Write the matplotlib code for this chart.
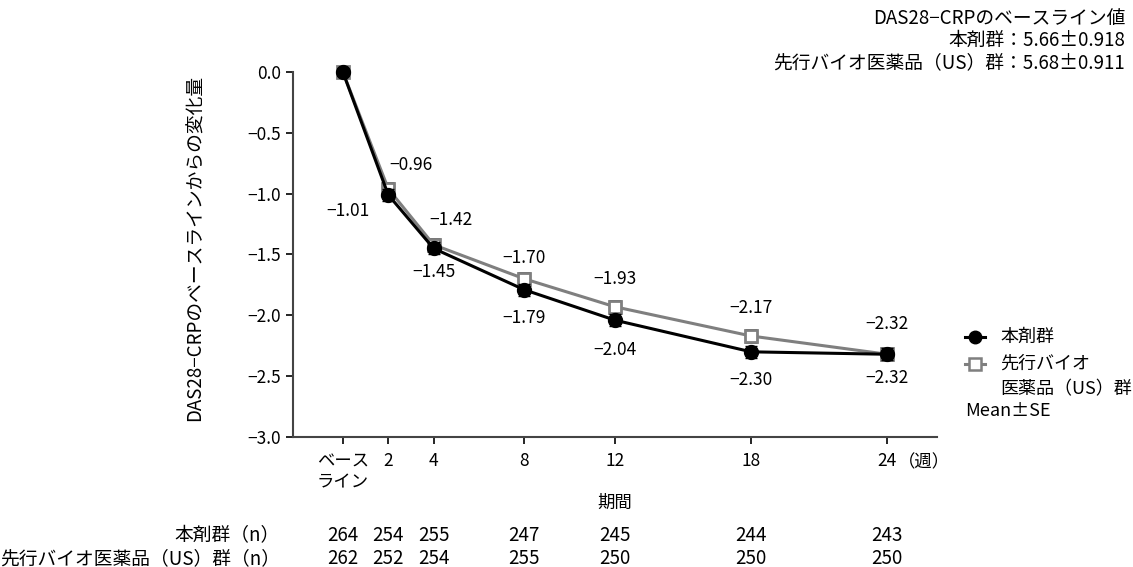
import numpy as np
import matplotlib.pyplot as plt
from matplotlib.lines import Line2D

plt.rcParams['font.family'] = ['Noto Sans CJK JP', 'DejaVu Sans']

# data
weeks = [0, 2, 4, 8, 12, 18, 24]
tick_labels = ['ベース\nライン', '2', '4', '8', '12', '18', '24']
drug = [0.0, -1.01, -1.45, -1.79, -2.04, -2.30, -2.32]
drug_se = [0.0, 0.05, 0.05, 0.05, 0.05, 0.05, 0.05]
ref = [0.0, -0.96, -1.42, -1.70, -1.93, -2.17, -2.32]
ref_se = [0.0, 0.05, 0.05, 0.05, 0.05, 0.05, 0.05]
n_drug = [264, 254, 255, 247, 245, 244, 243]
n_ref = [262, 252, 254, 255, 250, 250, 250]

# label offsets in pixels (dx, dy)
drug_off = [None, (-40, -16), (0, -24), (0, -28), (0, -30), (0, -28), (0, -24)]
ref_off = [None, (23, 24), (17, 25), (0, 21), (0, 28), (0, 28), (0, 30)]

gray = '#7f7f7f'
fs = 12.5

fig = plt.figure(figsize=(11.33, 5.67), dpi=100)
ax = fig.add_axes([0.2586, 0.2293, 0.5685, 0.6437])

ax.errorbar(weeks, ref, yerr=ref_se, color=gray, lw=2.2, marker='s', ms=9,
            mfc='white', mec=gray, mew=2, capsize=4, elinewidth=1.2,
            ecolor='#333333', clip_on=False, zorder=3)
ax.errorbar(weeks, drug, yerr=drug_se, color='black', lw=2.2, marker='o', ms=10,
            mfc='black', mec='black', capsize=4, elinewidth=1.2,
            clip_on=False, zorder=4)

for i in range(1, len(weeks)):
    ax.annotate(f'{drug[i]:.2f}'.replace('-', '\u2212'), (weeks[i], drug[i]),
                xytext=drug_off[i], textcoords='offset pixels',
                ha='center', va='center', fontsize=fs)
    ax.annotate(f'{ref[i]:.2f}'.replace('-', '\u2212'), (weeks[i], ref[i]),
                xytext=ref_off[i], textcoords='offset pixels',
                ha='center', va='center', fontsize=fs)

ax.set_xlim(-2.2, 26.2)
ax.set_ylim(-3.0, 0.0)
yt = np.arange(-3.0, 0.01, 0.5)
ax.set_yticks(yt)
ax.set_yticklabels([f'{v:.1f}'.replace('-', '\u2212') for v in yt], fontsize=fs)
ax.set_xticks(weeks)
ax.set_xticklabels(tick_labels, fontsize=fs, multialignment='left')
ax.tick_params(axis='both', direction='out', length=5, width=1.2, colors='black')
ax.tick_params(axis='x', pad=6)
for s in ['top', 'right']:
    ax.spines[s].set_visible(False)
for s in ['left', 'bottom']:
    ax.spines[s].set_linewidth(1.5)
    ax.spines[s].set_color('#444444')

ax.annotate('（週）', (weeks[-1], 0), xycoords=ax.get_xaxis_transform(),
            xytext=(11, -25), textcoords='offset pixels',
            ha='left', va='center', fontsize=fs)
ax.set_xlabel('期間', fontsize=fs, labelpad=2)
ax.set_ylabel('DAS28−CRPのベースラインからの変化量', fontsize=13.5)
ax.yaxis.set_label_coords(-0.135, 0.517)

# n table
tfs = 13.5
row_y = [0.055, 0.015]
fig.text(0.247, row_y[0], '本剤群（n）', ha='right', va='center', fontsize=tfs)
fig.text(0.247, row_y[1], '先行バイオ医薬品（US）群（n）', ha='right', va='center', fontsize=tfs)
for w, a, b in zip(weeks, n_drug, n_ref):
    xf = fig.transFigure.inverted().transform(ax.transData.transform((w, 0)))[0]
    fig.text(xf, row_y[0], str(a), ha='center', va='center', fontsize=tfs)
    fig.text(xf, row_y[1], str(b), ha='center', va='center', fontsize=tfs)

# baseline annotation
fig.text(0.993, 0.968, 'DAS28−CRPのベースライン値', ha='right', va='center', fontsize=13.5)
fig.text(0.993, 0.928, '本剤群：5.66±0.918', ha='right', va='center', fontsize=13.5)
fig.text(0.993, 0.889, '先行バイオ医薬品（US）群：5.68±0.911', ha='right', va='center', fontsize=13.5)

# legend
lfs = 13
fig.add_artist(Line2D([0.852, 0.869], [0.406, 0.406], color='black', lw=2.2,
                      transform=fig.transFigure))
fig.add_artist(Line2D([0.8605], [0.406], color='black', marker='o', ms=9,
                      transform=fig.transFigure))
fig.add_artist(Line2D([0.852, 0.869], [0.358, 0.358], color=gray, lw=2.2,
                      transform=fig.transFigure))
fig.add_artist(Line2D([0.8605], [0.358], color=gray, marker='s', ms=9, mfc='white',
                      mec=gray, mew=1.8, transform=fig.transFigure))
fig.text(0.8826, 0.406, '本剤群', ha='left', va='center', fontsize=lfs)
fig.text(0.8826, 0.358, '先行バイオ', ha='left', va='center', fontsize=lfs)
fig.text(0.8826, 0.314, '医薬品（US）群', ha='left', va='center', fontsize=lfs)
fig.text(0.852, 0.275, 'Mean±SE', ha='left', va='center', fontsize=lfs)

fig.savefig('out.png', dpi=100)
